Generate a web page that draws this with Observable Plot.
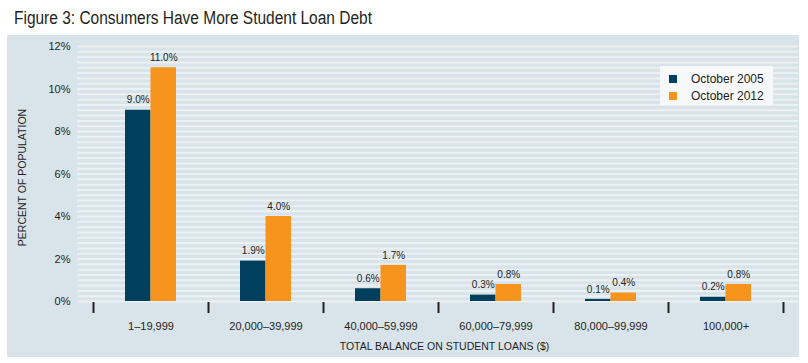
<!DOCTYPE html>
<html>
<head>
<meta charset="utf-8">
<script src="https://cdn.jsdelivr.net/npm/d3@7"></script>
<script src="https://cdn.jsdelivr.net/npm/@observablehq/plot@0.6"></script>
<style>
  html, body { margin: 0; padding: 0; background: #ffffff; width: 808px; height: 363px; overflow: hidden; }
  body { position: relative; font-family: "Liberation Sans", Arial, sans-serif; color: #231f20; }
  #title { position: absolute; left: 14px; top: 8px; font-family: "Liberation Sans", Arial, sans-serif; font-size: 18px; line-height: 20px; color: #231f20; white-space: nowrap; transform: scaleX(0.86); transform-origin: 0 0; }
  #chart { position: absolute; left: 7px; top: 35px; }
  #legend { position: absolute; left: 660px; top: 66px; width: 113px; height: 39px; background: #f6f8fa; }
  .item { position: absolute; left: 9px; font-size: 12px; line-height: 12px; white-space: nowrap; }
  .sw { display: inline-block; width: 8px; height: 8px; margin-right: 14px; vertical-align: 0px; }
</style>
</head>
<body>
<div id="title">Figure 3: Consumers Have More Student Loan Debt</div>
<div id="chart"></div>
<div id="legend"></div>
<script>
const categories = ["1–19,999", "20,000–39,999", "40,000–59,999", "60,000–79,999", "80,000–99,999", "100,000+"];
const seriesNames = ["October 2005", "October 2012"];
const oct2005 = [9.0, 1.9, 0.6, 0.3, 0.1, 0.2];
const oct2012 = [11.0, 4.0, 1.7, 0.8, 0.4, 0.8];
const yTicks = [0, 2, 4, 6, 8, 10, 12];
const colors = ["#003f5e", "#f7941e"];
const xTitle = "TOTAL BALANCE ON STUDENT LOANS ($)";
const yTitle = "PERCENT OF POPULATION";

const rows = [];
categories.forEach((c, i) => {
  rows.push({cat: c, series: seriesNames[0], value: oct2005[i]});
  rows.push({cat: c, series: seriesNames[1], value: oct2012[i]});
});
const stripes = d3.range(0, 12.01, 0.25);
const ink = "#231f20";

const plot = Plot.plot({
  width: 792,
  height: 322,
  marginLeft: 70,
  marginRight: 1,
  marginTop: 11,
  marginBottom: 56,
  style: {background: "#d9e3ea", fontFamily: "Liberation Sans, Arial, sans-serif", color: ink, overflow: "visible"},
  x: {type: "band", domain: categories, range: [85.5, 775.5], padding: 0},
  y: {domain: [0, 12]},
  color: {domain: seriesNames, range: colors},
  marks: [
    Plot.gridY(stripes, {stroke: "#edf2f5", strokeOpacity: 0.9, strokeWidth: 2}),
    Plot.barY(rows, {filter: d => d.series === seriesNames[0], x: "cat", y: "value", fill: "series", insetLeft: 32, insetRight: 57.5}),
    Plot.barY(rows, {filter: d => d.series === seriesNames[1], x: "cat", y: "value", fill: "series", insetLeft: 57.5, insetRight: 32}),
    Plot.text(rows, {filter: d => d.series === seriesNames[0], x: "cat", y: "value", text: d => d.value.toFixed(1) + "%", dx: -12.75, dy: -10, fontSize: 10, fill: ink}),
    Plot.text(rows, {filter: d => d.series === seriesNames[1], x: "cat", y: "value", text: d => d.value.toFixed(1) + "%", dx: 12.75, dy: -10, fontSize: 10, fill: ink}),
    Plot.axisY({ticks: yTicks, tickFormat: d => d + "%", tickSize: 0, tickPadding: 7, fontSize: 11, label: null, fill: ink}),
    Plot.axisX({tickSize: 0, tickPadding: 21, fontSize: 11, label: null, fill: ink}),
    Plot.axisX({tickSize: 11, tickFormat: () => "", dx: -57.5, dy: 1, strokeWidth: 2, stroke: ink, label: null}),
    Plot.axisX({ticks: [categories[categories.length - 1]], tickSize: 11, tickFormat: () => "", dx: 57.5, dy: 1, strokeWidth: 2, stroke: ink, label: null}),
    Plot.text([xTitle], {frameAnchor: "bottom", dy: 48, dx: 6.5, fontSize: 10.5, fill: ink}),
    Plot.text([yTitle], {frameAnchor: "left", textAnchor: "middle", rotate: -90, dx: -55, dy: 3.5, fontSize: 10.5, fill: ink})
  ]
});
document.getElementById("chart").appendChild(plot);

const legend = document.getElementById("legend");
seriesNames.forEach((s, i) => {
  const it = document.createElement("div");
  it.className = "item";
  it.style.top = (7 + i * 17) + "px";
  const sw = document.createElement("span");
  sw.className = "sw";
  sw.style.background = colors[i];
  it.appendChild(sw);
  it.appendChild(document.createTextNode(s));
  legend.appendChild(it);
});
</script>
</body>
</html>
